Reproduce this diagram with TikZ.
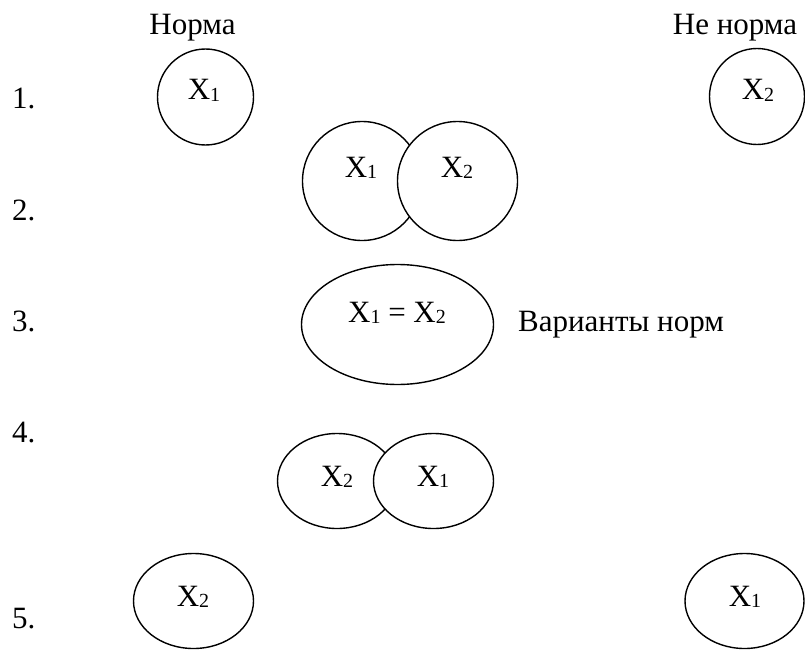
\documentclass[tikz,border=0pt]{standalone}
\usepackage{fontspec}
\setmainfont{Liberation Serif}
\usetikzlibrary{shapes.geometric}
\newcommand{\sbx}[1]{\raisebox{-1.5pt}{\fontsize{20}{20}\selectfont #1}}
\begin{document}
\begin{tikzpicture}[x=1pt,y=-1pt,
  ov/.style={draw, line width=1.4pt, fill=white, ellipse, inner sep=0pt},
  txt/.style={anchor=base, inner sep=0pt, font=\rmfamily\fontsize{31}{37}\selectfont},
  num/.style={anchor=base west, inner sep=0pt, font=\rmfamily\fontsize{31}{37}\selectfont}]
\useasboundingbox (0,0) rectangle (805,650);
% headings
\node[txt] (hn) at (192.5,35) {Норма};
\node[txt] (hnn) at (735,35) {Не норма};
% numbers
\node[num] (n1) at (12,109) {1.};
\node[num] (n2) at (12,220) {2.};
\node[num] (n3) at (12,331) {3.};
\node[num] (n4) at (12,442) {4.};
\node[num] (n5) at (12,628) {5.};
% row 1
\node[ov, minimum width=96pt, minimum height=96pt] (a1) at (205.5,97) {};
\node[ov, minimum width=95pt, minimum height=96pt] (b1) at (757,96.5) {};
\node[txt] (ta1) at (204,100) {X\sbx{1}};
\node[txt] (tb1) at (758,100) {X\sbx{2}};
% row 2
\node[ov, minimum width=119pt, minimum height=119pt] (a2) at (362,181) {};
\node[ov, minimum width=120pt, minimum height=119pt] (b2) at (457.5,181) {};
\node[txt] (ta2) at (361,177) {X\sbx{1}};
\node[txt] (tb2) at (457,177) {X\sbx{2}};
% row 3
\node[ov, minimum width=192pt, minimum height=120pt] (a3) at (397.5,324.5) {};
\node[txt] (ta3) at (397,322) {X\sbx{1} = X\sbx{2}};
\node[num] (var) at (518,331) {Варианты норм};
% row 4
\node[ov, minimum width=119pt, minimum height=95pt] (a4) at (337,481) {};
\node[ov, minimum width=120pt, minimum height=95pt] (b4) at (433.5,481) {};
\node[txt] (ta4) at (337,486) {X\sbx{2}};
\node[txt] (tb4) at (433,486) {X\sbx{1}};
% row 5
\node[ov, minimum width=120pt, minimum height=95pt] (a5) at (193.5,601) {};
\node[ov, minimum width=119pt, minimum height=95pt] (b5) at (744.5,601) {};
\node[txt] (ta5) at (193,606) {X\sbx{2}};
\node[txt] (tb5) at (745,606) {X\sbx{1}};
\end{tikzpicture}
\end{document}
